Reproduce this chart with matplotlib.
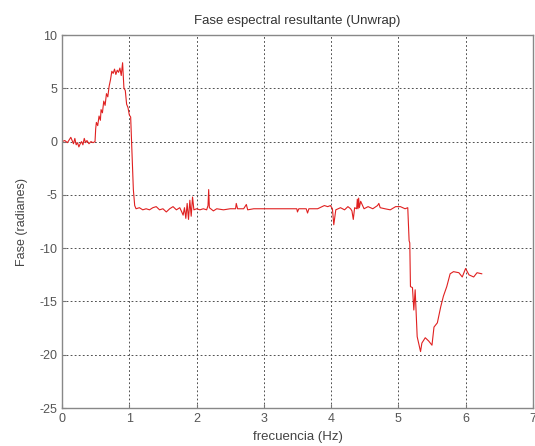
import matplotlib
matplotlib.use("Agg")
import matplotlib.pyplot as plt

# phase curve (frequency in Hz, phase in rad)
freq = [
    0.00, 0.04, 0.08, 0.11, 0.13, 0.15, 0.17, 0.19, 0.21, 0.23, 0.25, 0.27,
    0.29, 0.31, 0.33, 0.35, 0.37, 0.40, 0.43, 0.46, 0.49,
    0.50, 0.51, 0.53, 0.55, 0.57, 0.58, 0.60, 0.62, 0.64, 0.66, 0.68, 0.70,
    0.72, 0.74, 0.76, 0.78, 0.80, 0.82, 0.84, 0.86, 0.88, 0.90, 0.92, 0.94,
    0.96, 0.98, 1.00, 1.02, 1.04, 1.06, 1.08, 1.10,
    1.15, 1.20, 1.25, 1.30, 1.35, 1.40, 1.45, 1.50, 1.55, 1.60, 1.65, 1.70,
    1.75, 1.78, 1.80, 1.82, 1.84, 1.86, 1.88, 1.90, 1.92, 1.94, 1.96, 2.00,
    2.05, 2.10, 2.15, 2.17, 2.18, 2.19, 2.25, 2.30, 2.40, 2.50, 2.58, 2.59,
    2.61, 2.70, 2.74, 2.76, 2.85, 3.00,
    3.20, 3.40, 3.49, 3.50, 3.52, 3.63, 3.65, 3.67, 3.80, 3.90, 3.95, 3.99,
    4.02, 4.04, 4.07, 4.14, 4.20, 4.25, 4.29, 4.31, 4.33, 4.35, 4.38, 4.39,
    4.40, 4.41, 4.42, 4.44, 4.49, 4.55, 4.62, 4.69, 4.71, 4.73, 4.80, 4.88,
    4.96, 5.03, 5.10, 5.14,
    5.16, 5.17, 5.18, 5.21, 5.23, 5.25, 5.28, 5.33, 5.35, 5.40, 5.45, 5.50,
    5.53, 5.58, 5.63, 5.67, 5.72, 5.77, 5.82, 5.90, 5.95, 6.00, 6.05, 6.12,
    6.17, 6.24,
]
phase = [
    0.0, 0.1, -0.1, 0.2, 0.4, 0.1, -0.2, 0.3, -0.3, -0.1, -0.5, -0.2,
    0.0, -0.3, 0.3, -0.1, 0.1, -0.2, 0.0, -0.1, 0.0,
    1.2, 1.8, 1.5, 2.4, 2.0, 3.0, 2.7, 3.8, 3.4, 4.5, 4.2, 5.2,
    5.8, 6.6, 6.4, 6.8, 6.3, 6.7, 6.5, 6.9, 6.2, 7.4, 5.0, 4.8,
    3.5, 3.2, 2.5, 2.3, -1.0, -4.5, -6.0, -6.3,
    -6.2, -6.4, -6.3, -6.4, -6.2, -6.1, -6.4, -6.3, -6.6, -6.3, -6.1, -6.4,
    -6.2, -6.6, -6.9, -6.2, -7.2, -5.8, -7.3, -5.5, -7.0, -5.2, -6.4, -6.3,
    -6.4, -6.3, -6.4, -6.0, -4.5, -6.2, -6.5, -6.3, -6.4, -6.3, -6.3, -5.8,
    -6.3, -6.3, -5.9, -6.4, -6.3, -6.3,
    -6.3, -6.3, -6.3, -6.6, -6.3, -6.3, -6.7, -6.3, -6.3, -6.0, -6.1, -6.0,
    -6.3, -7.8, -6.4, -6.2, -6.4, -6.1, -6.3, -6.5, -7.3, -6.2, -6.3, -5.4,
    -6.3, -5.3, -6.2, -5.6, -6.3, -6.1, -6.3, -6.0, -5.8, -6.2, -6.3, -6.4,
    -6.1, -6.1, -6.3, -6.2,
    -9.3, -9.5, -13.6, -13.7, -15.8, -13.9, -18.3, -19.7, -18.9, -18.4, -18.7, -19.1,
    -17.4, -17.0, -15.5, -14.5, -13.6, -12.4, -12.2, -12.3, -12.7, -11.9, -12.5, -12.7,
    -12.3, -12.4,
]

x_ticks = [0, 1, 2, 3, 4, 5, 6, 7]
y_ticks = [-25, -20, -15, -10, -5, 0, 5, 10]

plt.rcParams["font.family"] = ["Liberation Sans", "DejaVu Sans"]
plt.rcParams["axes.unicode_minus"] = False
text_color = "#555555"

fig = plt.figure(figsize=(5.35, 4.46), dpi=100)
ax = fig.add_axes([0.116, 0.085, 0.880, 0.8365])

ax.plot(freq, phase, color="#e02020", linewidth=0.8)

ax.set_xlim(0, 7)
ax.set_ylim(-25, 10)
ax.set_xticks(x_ticks)
ax.set_yticks(y_ticks)
ax.grid(True, color="#444444", linestyle=(0, (2, 2.5)), linewidth=0.65)
ax.tick_params(direction="in", length=3, labelsize=9, colors="#777777",
               labelcolor=text_color)

for spine in ax.spines.values():
    spine.set_color("#888888")
    spine.set_linewidth(1.0)

ax.set_title("Fase espectral resultante (Unwrap)", fontsize=9.5,
             color="#333333", pad=8)
ax.set_xlabel("frecuencia (Hz)", fontsize=9.5, color="#444444", labelpad=4)
ax.set_ylabel("Fase (radianes)", fontsize=9, color="#444444", labelpad=8)

fig.savefig("out.png", dpi=100)
plt.close(fig)
